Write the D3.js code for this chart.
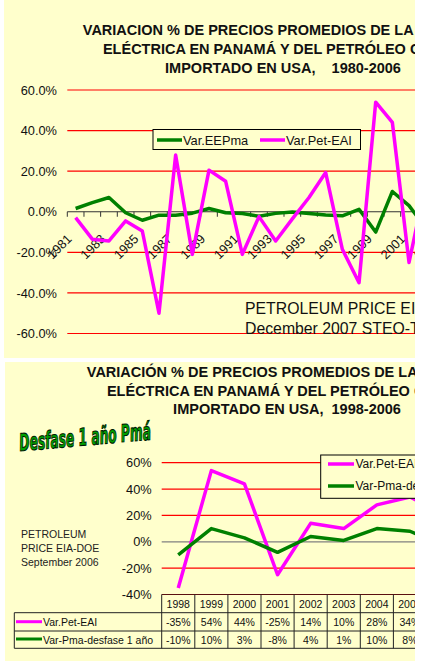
<!DOCTYPE html>
<html>
<head>
<meta charset="utf-8">
<script src="https://d3js.org/d3.v7.min.js"></script>
<style>
  body { margin: 0; background: #fff; }
  svg { display: block; font-family: "Liberation Sans", Arial, sans-serif; }
  .title { font-weight: bold; font-size: 14.5px; white-space: pre; fill: #111; }
  .tick-lbl { font-size: 12.8px; fill: #111; }
  .cell { font-size: 10.5px; fill: #111; }
</style>
</head>
<body>
<script>
/* chart 1 : 1981-2006 */
var years1 = ["1981","1982","1983","1984","1985","1986","1987","1988","1989","1990",
              "1991","1992","1993","1994","1995","1996","1997","1998","1999","2000",
              "2001","2002","2003","2004","2005","2006"];
var eePma  = [1.6, 4.5, 7, -0.5, -4.2, -1.7, -1.7, -0.7, 1.6, -0.5,
              -0.9, -2.2, -0.8, -0.1, -0.9, -1.6, -2, 1.2, -10, 10,
              3, -8, 4, 1, 10, 8];
var petEai = [-2.9, -13.5, -14.4, -4.5, -9.5, -50, 28, -21, 20.5, 15,
              -21, -2.4, -14.4, -3.5, 7, 19.3, -18.5, -35, 54, 44,
              -25, 14, 10, 28, 34, 21];
var yTicks1 = [-60, -40, -20, 0, 20, 40, 60];

/* chart 2 : 1998-2006, Pma shifted one year */
var years2 = ["1998","1999","2000","2001","2002","2003","2004","2005","2006"];
var pet2   = [-35, 54, 44, -25, 14, 10, 28, 34, 21];
var pma2   = [-10, 10, 3, -8, 4, 1, 10, 8, -3];
var yTicks2 = [-40, -20, 0, 20, 40, 60];

var PINK = "#ff00ff", GREEN = "#008000", RED = "#ff0000", BG = "#ffffcc";

var svg = d3.select("body").append("svg")
  .attr("width", 425).attr("height", 665);

var defs = svg.append("defs");
defs.append("clipPath").attr("id", "clip1")
  .append("rect").attr("x", 4).attr("y", 0).attr("width", 411).attr("height", 358);
defs.append("clipPath").attr("id", "clip2")
  .append("rect").attr("x", 5).attr("y", 362).attr("width", 410).attr("height", 299);

/***********************************************
  Chart 1 - variation 1981-2006
************************************************/
var g1 = svg.append("g").attr("clip-path", "url(#clip1)");
g1.append("rect").attr("x", 4).attr("y", 0).attr("width", 411).attr("height", 358).attr("fill", BG);

var title1 = ["VARIACION % DE PRECIOS PROMEDIOS DE LA ENERGÍA",
              "ELÉCTRICA EN PANAMÁ Y DEL PETRÓLEO CRUDO",
              "IMPORTADO EN USA,    1980-2006"];
g1.selectAll("text.title").data(title1).enter().append("text")
  .attr("class", "title")
  .attr("x", 283).attr("y", function(d, i) { return 35 + i * 19; })
  .attr("text-anchor", "middle")
  .text(function(d) { return d; });

var x1 = d3.scaleBand().domain(years1).range([67.3, 67.3 + 26 * 16.67]);
var y1 = d3.scaleLinear().domain([-60, 60]).range([333.5, 90]);

// gridlines
g1.selectAll("line.grid").data(yTicks1.filter(function(d) { return d !== 0; }))
  .enter().append("line")
  .attr("x1", x1.range()[0]).attr("x2", x1.range()[1])
  .attr("y1", function(d) { return y1(d); }).attr("y2", function(d) { return y1(d); })
  .attr("stroke", RED).attr("stroke-width", 1.2);

var yAxis1 = d3.axisLeft(y1).tickValues(yTicks1).tickSize(0).tickPadding(0)
  .tickFormat(function(d) { return d.toFixed(1) + "%"; });
var ya1 = g1.append("g").attr("transform", "translate(57,0)").call(yAxis1);
ya1.select(".domain").remove();
ya1.selectAll("text").attr("class", "tick-lbl").attr("fill", "#111").attr("font-size", null).attr("font-family", null);

// category axis on the 0% line
g1.append("line")
  .attr("x1", x1.range()[0]).attr("x2", x1.range()[1])
  .attr("y1", y1(0)).attr("y2", y1(0))
  .attr("stroke", "#333").attr("stroke-width", 1);
g1.selectAll("line.xt").data(years1).enter().append("line")
  .attr("x1", function(d) { return x1(d); }).attr("x2", function(d) { return x1(d); })
  .attr("y1", y1(0)).attr("y2", y1(0) + 5)
  .attr("stroke", "#333");
g1.selectAll("text.xl").data(years1.filter(function(d, i) { return i % 2 === 0; }))
  .enter().append("text")
  .attr("class", "tick-lbl")
  .attr("font-size", "13.2px")
  .attr("text-anchor", "end")
  .attr("transform", function(d) {
    return "translate(" + (x1(d) + x1.bandwidth() / 2 - 3) + "," + (y1(0) + 28) + ") rotate(-45)";
  })
  .text(function(d) { return d; });

var line1 = function(vals) {
  return d3.line()
    .x(function(d, i) { return x1(years1[i]) + x1.bandwidth() / 2; })
    .y(function(d) { return y1(d); })(vals);
};
g1.append("path").attr("d", line1(eePma)).attr("fill", "none")
  .attr("stroke", GREEN).attr("stroke-width", 3.5).attr("stroke-linejoin", "round");
g1.append("path").attr("d", line1(petEai)).attr("fill", "none")
  .attr("stroke", PINK).attr("stroke-width", 3.5).attr("stroke-linejoin", "round");

// legend
var lg1 = g1.append("g");
lg1.append("rect").attr("x", 153).attr("y", 129.5).attr("width", 207.5).attr("height", 20)
  .attr("fill", BG).attr("stroke", "#000").attr("stroke-width", 1);
[["Var.EEPma", GREEN, 157], ["Var.Pet-EAI", PINK, 260]].forEach(function(it) {
  lg1.append("line").attr("x1", it[2]).attr("x2", it[2] + 25).attr("y1", 140).attr("y2", 140)
    .attr("stroke", it[1]).attr("stroke-width", 3.5);
  lg1.append("text").attr("class", "tick-lbl").attr("x", it[2] + 26).attr("y", 144.5).text(it[0]);
});

g1.selectAll("text.src").data(["PETROLEUM PRICE EIA-DOE", "December 2007 STEO-Table 4"])
  .enter().append("text")
  .attr("x", 245).attr("y", function(d, i) { return 313.5 + i * 20; })
  .attr("font-size", "15.8px").attr("fill", "#111")
  .text(function(d) { return d; });

/***********************************************
  Chart 2 - variation 1998-2006, 1 year lag
************************************************/
var g2 = svg.append("g").attr("clip-path", "url(#clip2)");
g2.append("rect").attr("x", 5).attr("y", 362).attr("width", 410).attr("height", 299).attr("fill", BG);

var title2 = ["VARIACIÓN % DE PRECIOS PROMEDIOS DE LA ENERGÍA",
              "ELÉCTRICA EN PANAMÁ Y DEL PETRÓLEO CRUDO",
              "IMPORTADO EN USA,  1998-2006"];
g2.selectAll("text.title").data(title2).enter().append("text")
  .attr("class", "title")
  .attr("x", 287).attr("y", function(d, i) { return 376.7 + i * 18.8; })
  .attr("text-anchor", "middle")
  .text(function(d) { return d; });

g2.append("text")
  .attr("x", 20).attr("y", 451)
  .attr("transform", "rotate(-5,20,451)")
  .attr("textLength", 132).attr("lengthAdjust", "spacingAndGlyphs")
  .attr("font-family", "'Liberation Sans Narrow', 'DejaVu Sans Condensed', sans-serif")
  .attr("font-weight", "bold").attr("font-style", "italic").attr("font-size", "24px")
  .attr("fill", "#00a000").attr("stroke", "#001a00").attr("stroke-width", 1.1)
  .text("Desfase 1 año Pmá");

var x2 = d3.scaleBand().domain(years2).range([161.7, 161.7 + 9 * 33.1]);
var y2 = d3.scaleLinear().domain([-40, 60]).range([594.5, 462.7]);

g2.selectAll("line.grid").data(yTicks2.filter(function(d) { return d > -40; }))
  .enter().append("line")
  .attr("x1", x2.range()[0]).attr("x2", x2.range()[1])
  .attr("y1", function(d) { return y2(d); }).attr("y2", function(d) { return y2(d); })
  .attr("stroke", function(d) { return d === 0 ? "#808080" : RED; })
  .attr("stroke-width", 1.2);

var yAxis2 = d3.axisLeft(y2).tickValues(yTicks2).tickSize(0).tickPadding(0)
  .tickFormat(function(d) { return d + "%"; });
var ya2 = g2.append("g").attr("transform", "translate(151.7,0)").call(yAxis2);
ya2.select(".domain").remove();
ya2.selectAll("text").attr("class", "tick-lbl").attr("fill", "#111").attr("font-size", null).attr("font-family", null);

g2.selectAll("text.src").data(["PETROLEUM", "PRICE EIA-DOE", "September 2006"])
  .enter().append("text")
  .attr("x", 21).attr("y", function(d, i) { return 537.5 + i * 14; })
  .attr("font-size", "10.5px").attr("fill", "#222")
  .text(function(d) { return d; });

var line2 = function(vals) {
  return d3.line()
    .x(function(d, i) { return x2(years2[i]) + x2.bandwidth() / 2; })
    .y(function(d) { return y2(d); })(vals);
};
g2.append("path").attr("d", line2(pet2)).attr("fill", "none")
  .attr("stroke", PINK).attr("stroke-width", 3.5).attr("stroke-linejoin", "round");
g2.append("path").attr("d", line2(pma2)).attr("fill", "none")
  .attr("stroke", GREEN).attr("stroke-width", 3.5).attr("stroke-linejoin", "round");

// legend
var lg2 = g2.append("g");
lg2.append("rect").attr("x", 320.7).attr("y", 455).attr("width", 140).attr("height", 43.3)
  .attr("fill", BG).attr("stroke", "#000").attr("stroke-width", 1);
[["Var.Pet-EAI", PINK, 464], ["Var-Pma-desfase 1 año", GREEN, 486]].forEach(function(it) {
  lg2.append("line").attr("x1", 328).attr("x2", 354).attr("y1", it[2]).attr("y2", it[2])
    .attr("stroke", it[1]).attr("stroke-width", 3.5);
  lg2.append("text").attr("x", 355.5).attr("y", it[2] + 4.3)
    .attr("font-size", "12px").attr("fill", "#111").text(it[0]);
});

// data table
var rowY = [594.5, 612.7, 631, 648.3];
var tLeft = 14.3, tRight = x2.range()[1];
var tbl = g2.append("g");
tbl.append("line").attr("x1", x2.range()[0]).attr("x2", tRight)
  .attr("y1", rowY[0]).attr("y2", rowY[0]).attr("stroke", "#5a1010").attr("stroke-width", 1.2);
tbl.selectAll("line.h").data(rowY.slice(1)).enter().append("line")
  .attr("x1", tLeft).attr("x2", tRight)
  .attr("y1", function(d) { return d; }).attr("y2", function(d) { return d; })
  .attr("stroke", "#222").attr("stroke-width", 1);
tbl.append("line").attr("x1", tLeft).attr("x2", tLeft)
  .attr("y1", rowY[1]).attr("y2", rowY[3]).attr("stroke", "#222");
tbl.selectAll("line.v").data(years2).enter().append("line")
  .attr("x1", function(d) { return x2(d); }).attr("x2", function(d) { return x2(d); })
  .attr("y1", rowY[0]).attr("y2", rowY[3])
  .attr("stroke", "#222").attr("stroke-width", 1);

var cx2 = function(d) { return x2(d) + x2.bandwidth() / 2; };
tbl.selectAll("text.yr").data(years2).enter().append("text")
  .attr("class", "cell").attr("text-anchor", "middle")
  .attr("x", cx2).attr("y", 608)
  .text(function(d) { return d; });
tbl.selectAll("text.pv").data(pet2).enter().append("text")
  .attr("class", "cell").attr("text-anchor", "middle")
  .attr("x", function(d, i) { return cx2(years2[i]); }).attr("y", 625.6)
  .text(function(d) { return d + "%"; });
tbl.selectAll("text.gv").data(pma2).enter().append("text")
  .attr("class", "cell").attr("text-anchor", "middle")
  .attr("x", function(d, i) { return cx2(years2[i]); }).attr("y", 644.2)
  .text(function(d) { return d + "%"; });

[["Var.Pet-EAI", PINK, 621.7], ["Var-Pma-desfase 1 año", GREEN, 639]].forEach(function(it) {
  tbl.append("line").attr("x1", 16).attr("x2", 42).attr("y1", it[2]).attr("y2", it[2])
    .attr("stroke", it[1]).attr("stroke-width", 3);
  tbl.append("text").attr("class", "cell").attr("font-size", "10.8px")
    .attr("x", 43).attr("y", it[2] + 4.5).text(it[0]);
});
</script>
</body>
</html>
